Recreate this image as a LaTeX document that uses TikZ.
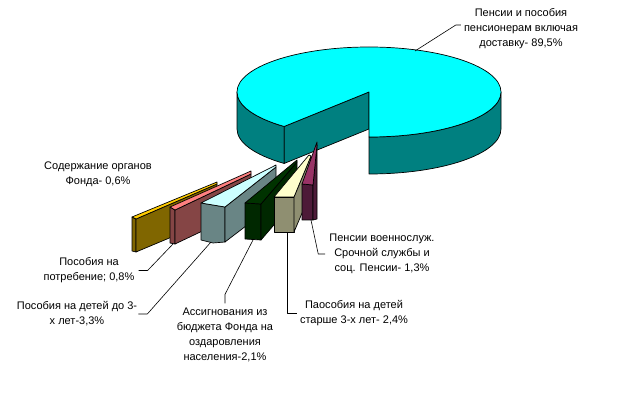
\documentclass[tikz,border=0pt]{standalone}
\usepackage{fontspec}
\setmainfont{Liberation Sans}
\definecolor{piecyan}{HTML}{00FFFF}
\definecolor{pieteal}{HTML}{008080}
\definecolor{olivetop}{HTML}{FFCC00}
\definecolor{oliveside}{HTML}{806600}
\definecolor{browntop}{HTML}{FF8080}
\definecolor{brownside}{HTML}{854545}
\definecolor{graytop}{HTML}{CCFFFF}
\definecolor{grayside}{HTML}{698585}
\definecolor{greentop}{HTML}{003300}
\definecolor{greenside}{HTML}{002800}
\definecolor{creamtop}{HTML}{FFFFCC}
\definecolor{creamside}{HTML}{8F8F71}
\definecolor{plumtop}{HTML}{993366}
\definecolor{plumside}{HTML}{4D1A38}

\begin{document}
\begin{tikzpicture}[x=1pt, y=1pt, line join=round,
	face/.style={draw=black, line width=0.7pt},
	leader/.style={draw=black, line width=0.6pt},
	lbl/.style={font=\fontsize{11}{15}\selectfont, align=center, inner sep=0pt}]
	\useasboundingbox (0,0) rectangle (619,-417);

	% big slice
	\coordinate (C) at (369,-92);
	\filldraw[face, fill=pieteal] ([shift={(180:132 and 45)}]C) arc[start angle=180, end angle=230, x radius=132, y radius=45]
		-- ++(0,-37) arc[start angle=230, end angle=180, x radius=132, y radius=45] -- cycle;
	\filldraw[face, fill=pieteal] ([shift={(270:132 and 45)}]C) arc[start angle=270, end angle=360, x radius=132, y radius=45]
		-- ++(0,-37) arc[start angle=360, end angle=270, x radius=132, y radius=45] -- cycle;
	\filldraw[face, fill=pieteal] ([shift={(230:132 and 45)}]C) -- (C) -- ++(0,-37) -- ++(230:132 and 45) -- cycle;
	\filldraw[face, fill=piecyan] (C) -- ++(270:132 and 45) arc[start angle=270, end angle=590, x radius=132, y radius=45] -- cycle;
	\coordinate (bigend) at (415,-51);

	% small slices
	\filldraw[face, fill=oliveside] (132,-217) -- (136,-219) -- (136,-252) -- (132,-251) -- cycle;
	\filldraw[face, fill=oliveside] (136,-219) -- (217,-184) -- (217,-218) -- (136,-252) -- cycle;
	\filldraw[face, fill=olivetop] (132,-217) -- (217,-182) -- (217,-184) -- (136,-219) -- cycle;

	\filldraw[face, fill=brownside] (170,-207) -- (175,-210) -- (175,-244) -- (170,-243) -- cycle;
	\filldraw[face, fill=brownside] (175,-210) -- (251,-174) -- (251,-208) -- (175,-244) -- cycle;
	\filldraw[face, fill=browntop] (170,-207) -- (251,-171) -- (251,-174) -- (175,-210) -- cycle;
	\coordinate (brownend) at (173,-244);

	\filldraw[face, fill=grayside] (201,-203) -- (225,-207) -- (225,-242) -- (213,-243) -- (201,-240) -- cycle;
	\filldraw[face, fill=grayside] (225,-207) -- (276,-167) -- (276,-203) -- (225,-242) -- cycle;
	\filldraw[face, fill=graytop] (201,-203) -- (276,-165) -- (276,-167) -- (225,-207) -- cycle;
	\coordinate (grayend) at (211,-242);

	\filldraw[face, fill=greenside] (245,-203) -- (261,-204) -- (261,-240) -- (245,-239) -- cycle;
	\filldraw[face, fill=greenside] (261,-204) -- (297,-162) -- (297,-198) -- (261,-240) -- cycle;
	\filldraw[face, fill=greentop] (245,-203) -- (297,-160) -- (297,-162) -- (261,-204) -- cycle;
	\coordinate (greenend) at (253,-240);

	\filldraw[face, fill=creamside] (274,-197) -- (294,-197) -- (294,-232) -- (274,-232) -- cycle;
	\filldraw[face, fill=creamside] (294,-197) -- (311,-156) -- (311,-192) -- (294,-232) -- cycle;
	\filldraw[face, fill=creamtop] (274,-197) -- (309,-155) -- (311,-156) -- (294,-197) -- cycle;
	\coordinate (creamend) at (287,-232);

	\filldraw[face, fill=plumside] (302,-184) -- (313,-185) -- (313,-220) -- (302,-220) -- cycle;
	\filldraw[face, fill=plumside] (313,-185) -- (317,-145) -- (317,-219) -- (313,-220) -- cycle;
	\filldraw[face, fill=plumtop] (302,-184) -- (317,-142) -- (317,-145) -- (313,-185) -- cycle;
	\coordinate (plumend) at (311,-220);

	% labels
	\node[lbl] (biglbl) at (521,-28.5) {Пенсии и пособия\\пенсионерам включая\\доставку- 89,5\%};
	\node[lbl] (organlbl) at (98,-174.5) {Содержание органов\\Фонда- 0,6\%};
	\node[lbl] (potreblbl) at (89,-270.5) {Пособия на\\потребение; 0,8\%};
	\node[lbl] (childlbl) at (77,-314) {Пособия на детей до 3-\\х лет-3,3\%};
	\node[lbl] (healthlbl) at (225,-334.5) {Ассигнования из\\бюджета Фонда на\\оздаровления\\населения-2,1\%};
	\node[lbl] (olderlbl) at (354,-313) {Паособия на детей\\старше 3-х лет- 2,4\%};
	\node[lbl] (militlbl) at (382,-254) {Пенсии военнослуж.\\Срочной службы и\\соц. Пенсии- 1,3\%};

	% leaders
	\draw[leader] ([shift={(-3,3.5)}]biglbl.west) -- ++(-5,0) -- (bigend);
	\draw[leader] ([xshift=4]potreblbl.east) -- ++(9,0) -- (brownend);
	\draw[leader] ([xshift=1]childlbl.east) -- ++(9,0) -- (grayend);
	\draw[leader] ([yshift=4]healthlbl.north) -- ++(0,9) -- (greenend);
	\draw[leader] ([xshift=-3]olderlbl.west) -| (creamend);
	\draw[leader] ([xshift=-4]militlbl.west) -- ++(-7,0) -- (plumend);
\end{tikzpicture}
\end{document}
